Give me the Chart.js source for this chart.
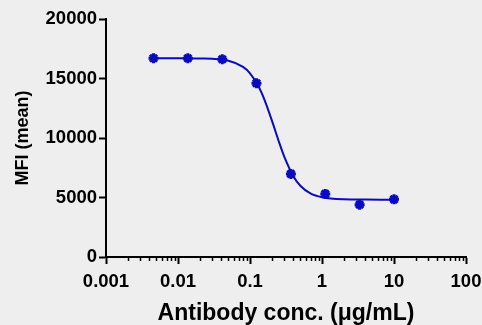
<!DOCTYPE html>
<html>
<head>
<meta charset="utf-8">
<script src="https://cdn.jsdelivr.net/npm/chart.js@4.4.1/dist/chart.umd.min.js"></script>
<style>
  html, body { margin: 0; padding: 0; background: #eeeeee; }
  #wrap { width: 482px; height: 325px; position: relative; }
</style>
</head>
<body>
<div id="wrap"><canvas id="doseChart"></canvas></div>
<script>
// measured points (3-fold dilution series)
var concs = [0.00457, 0.0137, 0.0412, 0.123, 0.370, 1.11, 3.33, 10];
var mfi = [16700, 16700, 16620, 14600, 6980, 5300, 4400, 4850];

// fitted curve
var fitX = [0.00457, 0.01, 0.02, 0.05, 0.08, 0.1, 0.13, 0.16, 0.2, 0.25, 0.3, 0.4, 0.5, 0.7, 1, 2, 4, 10];
var fitY = [16700, 16698, 16680, 16490, 15970, 15440, 14390, 13170, 11520, 9750, 8410, 6790, 5990, 5320, 5020, 4850, 4825, 4820];

var majorTicks = [0.001, 0.01, 0.1, 1, 10, 100];
var yTicks = [0, 5000, 10000, 15000, 20000];

var blue = '#0a0ac0';
var fam = 'Liberation Sans, Arial, sans-serif';
var tickFont = { family: fam, size: 18.5, weight: 'bold' };

function pairs(xs, ys) {
  return xs.map(function(x, i) { return { x: x, y: ys[i] }; });
}

// short minor ticks on the log axis
var minorTickPlugin = {
  id: 'minorTicks',
  afterDraw: function(chart) {
    var sx = chart.scales.x, ctx = chart.ctx;
    var yb = sx.top;
    ctx.save();
    ctx.strokeStyle = '#000';
    ctx.lineWidth = 1.5;
    sx.ticks.forEach(function(t) {
      if (majorTicks.indexOf(t.value) >= 0) return;
      var px = Math.round(sx.getPixelForValue(t.value)) + 0.5;
      ctx.beginPath();
      ctx.moveTo(px, yb);
      ctx.lineTo(px, yb + 4);
      ctx.stroke();
    });
    ctx.restore();
  }
};

new Chart(document.getElementById('doseChart'), {
  type: 'scatter',
  data: {
    datasets: [{
      data: pairs(fitX, fitY),
      showLine: true,
      borderColor: blue,
      borderWidth: 2,
      pointRadius: 0,
      cubicInterpolationMode: 'monotone',
      order: 2
    }, {
      data: pairs(concs, mfi),
      showLine: false,
      pointStyle: 'star',
      pointRadius: 5,
      borderWidth: 3,
      borderColor: blue,
      backgroundColor: blue,
      order: 1
    }]
  },
  options: {
    responsive: true,
    maintainAspectRatio: false,
    animation: false,
    layout: { padding: { top: 19, right: 16, left: 12, bottom: 0 } },
    plugins: { legend: { display: false }, tooltip: { enabled: false } },
    scales: {
      x: {
        type: 'logarithmic',
        min: 0.001,
        max: 100,
        afterBuildTicks: function(scale) {
          var ticks = [];
          for (var d = 0; d < majorTicks.length; d++) {
            ticks.push({ value: majorTicks[d] });
            if (d < majorTicks.length - 1) {
              for (var m = 2; m <= 9; m++) {
                ticks.push({ value: +(majorTicks[d] * m).toPrecision(3) });
              }
            }
          }
          scale.ticks = ticks;
        },
        afterFit: function(scale) {
          scale.height = 68;
          // let "100" run off the edge like the original
          scale.paddingLeft = 0;
          scale.paddingRight = 0;
        },
        border: { display: true, color: '#000', width: 2 },
        grid: {
          drawOnChartArea: false,
          drawTicks: true,
          tickLength: 7,
          tickWidth: 2,
          tickColor: function(c) {
            return majorTicks.indexOf(c.tick.value) >= 0 ? '#000' : 'rgba(0,0,0,0)';
          }
        },
        ticks: {
          autoSkip: false,
          maxRotation: 0,
          color: '#000',
          font: tickFont,
          padding: 7,
          callback: function(v) {
            return majorTicks.indexOf(v) >= 0 ? String(v) : '';
          }
        },
        title: {
          display: true,
          text: 'Antibody conc. (μg/mL)',
          color: '#000',
          font: { family: fam, size: 23, weight: 'bold' },
          padding: { top: 0, bottom: -2 }
        }
      },
      y: {
        min: 0,
        max: 20000,
        afterBuildTicks: function(scale) {
          scale.ticks = yTicks.map(function(v) { return { value: v }; });
        },
        afterFit: function(scale) { scale.width = 94; },
        border: { display: true, color: '#000', width: 2 },
        grid: {
          drawOnChartArea: false,
          drawTicks: true,
          tickLength: 7,
          tickWidth: 2,
          tickColor: '#000'
        },
        ticks: {
          color: '#000',
          font: tickFont,
          padding: 2,
          callback: function(v) { return String(v); }
        },
        title: {
          display: true,
          text: 'MFI (mean)',
          color: '#000',
          font: { family: fam, size: 18, weight: 'bold' },
          padding: { top: 0, bottom: 4 }
        }
      }
    }
  },
  plugins: [minorTickPlugin]
});
</script>
</body>
</html>
